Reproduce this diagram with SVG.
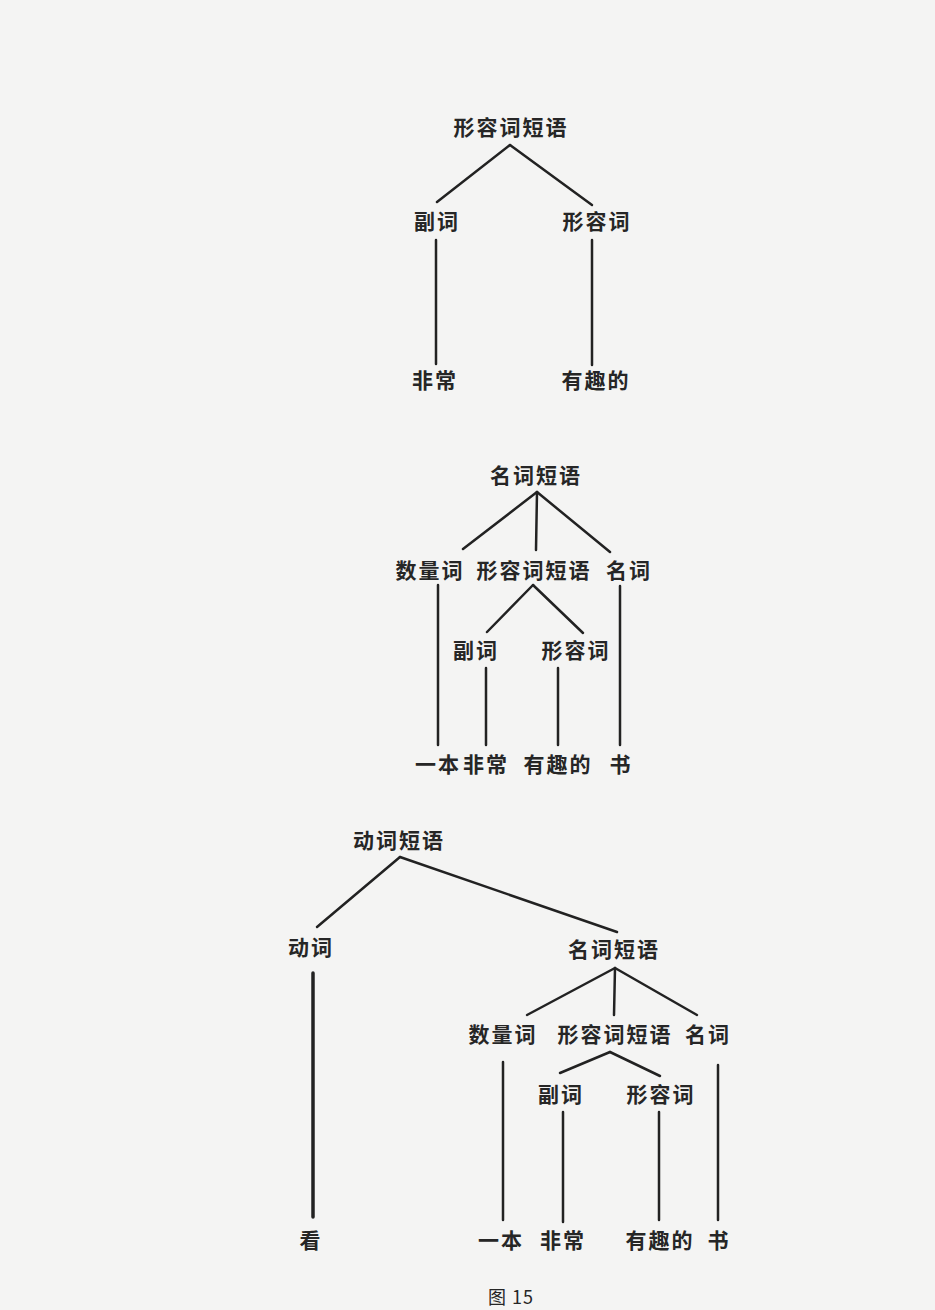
<svg xmlns="http://www.w3.org/2000/svg" width="935" height="1310" viewBox="0 0 935 1310">
<style>
text{font-family:"Noto Sans CJK SC","Noto Sans",sans-serif;font-size:21px;font-weight:bold;letter-spacing:2px;fill:#262626;text-anchor:middle}
.c line{stroke:#222;stroke-width:2.5;stroke-linecap:round}
.c .thick{stroke-width:3.5}
</style>
<rect width="935" height="1310" fill="#f4f4f3"/>
<g class="c" id="connectors">
<line x1="510" y1="145" x2="437" y2="202"/>
<line x1="510" y1="145" x2="592" y2="205"/>
<line x1="436" y1="240" x2="436" y2="364"/>
<line x1="592" y1="240" x2="592" y2="365"/>
<line x1="537" y1="492" x2="463" y2="549"/>
<line x1="537" y1="492" x2="536" y2="550"/>
<line x1="537" y1="492" x2="610" y2="552"/>
<line x1="533" y1="585" x2="487" y2="632"/>
<line x1="533" y1="585" x2="583" y2="633"/>
<line x1="438" y1="585" x2="438" y2="745"/>
<line x1="620" y1="586" x2="620" y2="745"/>
<line x1="486" y1="668" x2="486" y2="745"/>
<line x1="558" y1="668" x2="558" y2="745"/>
<line x1="400" y1="857" x2="317" y2="927"/>
<line x1="400" y1="857" x2="617" y2="932"/>
<line class="thick" x1="313" y1="973" x2="313" y2="1217"/>
<line x1="615" y1="968" x2="527" y2="1015"/>
<line x1="615" y1="968" x2="614" y2="1015"/>
<line x1="615" y1="968" x2="697" y2="1015"/>
<line x1="610" y1="1052" x2="560" y2="1073"/>
<line x1="610" y1="1052" x2="660" y2="1076"/>
<line x1="503" y1="1062" x2="503" y2="1220"/>
<line x1="718" y1="1065" x2="718" y2="1220"/>
<line x1="563" y1="1112" x2="563" y2="1222"/>
<line x1="659" y1="1112" x2="659" y2="1220"/>
</g>
<g id="t1-root"><text x="511" y="135">形容词短语</text></g>
<g id="t1-adv"><text x="437" y="229">副词</text></g>
<g id="t1-adj"><text x="597" y="229">形容词</text></g>
<g id="t1-w1"><text x="435" y="388">非常</text></g>
<g id="t1-w2"><text x="596" y="388">有趣的</text></g>
<g id="t2-root"><text x="536" y="483">名词短语</text></g>
<g id="t2-num"><text x="430" y="578">数量词</text></g>
<g id="t2-ap"><text x="534" y="578">形容词短语</text></g>
<g id="t2-n"><text x="629" y="578">名词</text></g>
<g id="t2-adv"><text x="476" y="658">副词</text></g>
<g id="t2-adj"><text x="576" y="658">形容词</text></g>
<g id="t2-w1"><text x="438" y="772">一本</text></g>
<g id="t2-w2"><text x="486" y="772">非常</text></g>
<g id="t2-w3"><text x="558" y="772">有趣的</text></g>
<g id="t2-w4"><text x="621" y="772">书</text></g>
<g id="t3-root"><text x="399" y="848">动词短语</text></g>
<g id="t3-v"><text x="311" y="955">动词</text></g>
<g id="t3-np"><text x="614" y="957">名词短语</text></g>
<g id="t3-num"><text x="503" y="1042">数量词</text></g>
<g id="t3-ap"><text x="615" y="1042">形容词短语</text></g>
<g id="t3-n"><text x="708" y="1042">名词</text></g>
<g id="t3-adv"><text x="561" y="1102">副词</text></g>
<g id="t3-adj"><text x="661" y="1102">形容词</text></g>
<g id="t3-w0"><text x="311" y="1248">看</text></g>
<g id="t3-w1"><text x="501" y="1248">一本</text></g>
<g id="t3-w2"><text x="563" y="1248">非常</text></g>
<g id="t3-w3"><text x="660" y="1248">有趣的</text></g>
<g id="t3-w4"><text x="719" y="1248">书</text></g>
<g id="caption"><text x="511" y="1304" style="font-size:18px;font-weight:normal;letter-spacing:1px">图 15</text></g>
</svg>
